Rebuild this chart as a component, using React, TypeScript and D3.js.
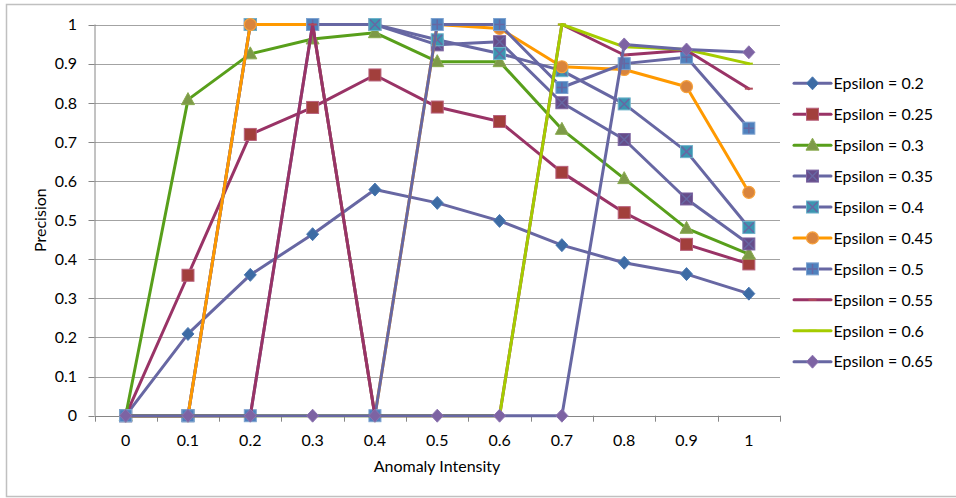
import React from "react";
import * as d3 from "d3";

const categories = ["0", "0.1", "0.2", "0.3", "0.4", "0.5", "0.6", "0.7", "0.8", "0.9", "1"];
const yTickValues = [0, 0.1, 0.2, 0.3, 0.4, 0.5, 0.6, 0.7, 0.8, 0.9, 1];

const seriesNames = [
  "Epsilon = 0.2",
  "Epsilon = 0.25",
  "Epsilon = 0.3",
  "Epsilon = 0.35",
  "Epsilon = 0.4",
  "Epsilon = 0.45",
  "Epsilon = 0.5",
  "Epsilon = 0.55",
  "Epsilon = 0.6",
  "Epsilon = 0.65",
];

const eps020 = [0, 0.209, 0.36, 0.464, 0.578, 0.544, 0.498, 0.436, 0.391, 0.362, 0.312];
const eps025 = [0, 0.359, 0.719, 0.788, 0.871, 0.789, 0.752, 0.622, 0.519, 0.438, 0.388];
const eps030 = [0, 0.808, 0.925, 0.963, 0.979, 0.905, 0.905, 0.732, 0.606, 0.479, 0.413];
const eps035 = [0, 0, 1, 1, 1, 0.948, 0.956, 0.8, 0.706, 0.554, 0.439];
const eps040 = [0, 0, 1, 1, 1, 0.961, 0.926, 0.882, 0.797, 0.675, 0.481];
const eps045 = [0, 0, 1, 1, 0, 1, 0.99, 0.892, 0.885, 0.841, 0.571];
const eps050 = [0, 0, 0, 1, 0, 1, 1, 0.839, 0.9, 0.916, 0.735];
const eps055 = [0, 0, 0, 1, 0, 0, 0, 1, 0.922, 0.934, 0.836];
const eps060 = [0, 0, 0, 0, 0, 0, 0, 1, 0.943, 0.936, 0.9];
const eps065 = [0, 0, 0, 0, 0, 0, 0, 0, 0.949, 0.936, 0.929];

const seriesValues = [eps020, eps025, eps030, eps035, eps040, eps045, eps050, eps055, eps060, eps065];

type Style = { line: string; marker: string; fill: string; stroke: string; mark?: string };
const PG = "#6767a3";
const styles: Style[] = [
  { line: PG, marker: "diamond", fill: "#3d6ba4", stroke: "#4a78b2" },
  { line: "#993366", marker: "square", fill: "#a23f3c", stroke: "#b8607c" },
  { line: "#589f1b", marker: "triangle", fill: "#7d9a48", stroke: "#8aab4f" },
  { line: PG, marker: "squareX", fill: "#664d8a", stroke: "#7e66a2", mark: PG },
  { line: PG, marker: "squareX", fill: "#3b96b1", stroke: "#6fb3cb", mark: PG },
  { line: "#ff9900", marker: "circle", fill: "#d9843c", stroke: "#f7a13a" },
  { line: PG, marker: "squarePlus", fill: "#4f81bd", stroke: "#7ea3d0", mark: PG },
  { line: "#993366", marker: "dash", fill: "#b04a5a", stroke: "#b04a5a" },
  { line: "#a5cc00", marker: "dash", fill: "#a5cc00", stroke: "#a5cc00" },
  { line: PG, marker: "diamond", fill: "#7d63a3", stroke: "#8b73b0" },
];

const FONT = "Lato, 'Liberation Sans', sans-serif";

function Marker({ x, y, s }: { x: number; y: number; s: Style }) {
  const h = 6;
  switch (s.marker) {
    case "diamond":
      return (
        <path
          d={`M${x},${y - 6.5}L${x + 6},${y}L${x},${y + 6.5}L${x - 6},${y}Z`}
          fill={s.fill}
          stroke={s.stroke}
          strokeWidth={1}
        />
      );
    case "square":
      return <rect x={x - h} y={y - h} width={2 * h} height={2 * h} fill={s.fill} stroke={s.stroke} strokeWidth={1} />;
    case "squareX":
      return (
        <g>
          <rect x={x - h} y={y - h} width={2 * h} height={2 * h} fill={s.fill} stroke={s.stroke} strokeWidth={1} />
          <path d={`M${x - h + 1},${y - h + 1}L${x + h - 1},${y + h - 1}M${x + h - 1},${y - h + 1}L${x - h + 1},${y + h - 1}`} stroke={s.mark} strokeWidth={1.5} />
        </g>
      );
    case "squarePlus":
      return (
        <g>
          <rect x={x - h} y={y - h} width={2 * h} height={2 * h} fill={s.fill} stroke={s.stroke} strokeWidth={1} />
          <path d={`M${x},${y - h + 1}L${x},${y + h - 1}M${x - h + 1},${y}L${x + h - 1},${y}`} stroke={s.mark} strokeWidth={1.5} />
        </g>
      );
    case "triangle":
      return (
        <path
          d={`M${x},${y - 7}L${x + 6.5},${y + 5}L${x - 6.5},${y + 5}Z`}
          fill={s.fill}
          stroke={s.stroke}
          strokeWidth={1}
        />
      );
    case "circle":
      return <circle cx={x} cy={y} r={6} fill={s.fill} stroke={s.stroke} strokeWidth={1.2} />;
    case "dash":
      return <rect x={x - 4} y={y - 1} width={8} height={2} fill={s.fill} />;
    default:
      return null;
  }
}

export default function App() {
  const W = 956;
  const H = 498;
  const left = 94.5;
  const right = 780;
  const top = 24.5;
  const bottom = 415.7;

  const x = d3.scalePoint<string>().domain(categories).range([left, right]).padding(0.5);
  const y = d3.scaleLinear().domain([0, 1]).range([bottom, top]);
  const step = x.step();

  const line = d3
    .line<number>()
    .x((_, i) => x(categories[i]) as number)
    .y((d) => y(d));

  const legendX0 = 794;
  const legendX1 = 831;
  const legendY0 = 83.3;
  const legendStep = 30.93;

  return (
    <svg
      width={W}
      height={H}
      style={{ position: "absolute", left: 0, top: 0, background: "#fff" }}
      fontFamily={FONT}
    >
      <rect x={0} y={0} width={W} height={H} fill="#fff" />
      <rect x={6.5} y={4.5} width={W} height={H - 6} fill="none" stroke="#c0c0c0" strokeWidth={1.5} />

      {/* gridlines */}
      {yTickValues.slice(1).map((v) => (
        <line key={"g" + v} x1={left} x2={right} y1={Math.round(y(v)) + 0.5} y2={Math.round(y(v)) + 0.5} stroke="#a3a3a3" strokeWidth={1} />
      ))}

      {/* y axis */}
      <line x1={left + 0.5} x2={left + 0.5} y1={top} y2={bottom} stroke="#868686" strokeWidth={1} />
      {yTickValues.map((v) => (
        <g key={"yt" + v}>
          <line x1={left - 6} x2={left} y1={Math.round(y(v)) + 0.5} y2={Math.round(y(v)) + 0.5} stroke="#868686" />
          <text x={77} y={y(v)} dy="0.36em" textAnchor="end" fontSize={16} fill="#000">
            {d3.format("~g")(v)}
          </text>
        </g>
      ))}

      {/* x axis */}
      <line x1={left} x2={right} y1={Math.round(bottom) + 0.5} y2={Math.round(bottom) + 0.5} stroke="#868686" strokeWidth={1} />
      {d3.range(categories.length + 1).map((i) => (
        <line
          key={"xt" + i}
          x1={Math.round(left + i * step) + 0.5}
          x2={Math.round(left + i * step) + 0.5}
          y1={bottom}
          y2={bottom + 6}
          stroke="#868686"
        />
      ))}
      {categories.map((c) => (
        <text key={"xl" + c} x={x(c)} y={440} dy="0.36em" textAnchor="middle" fontSize={16} fill="#000">
          {c}
        </text>
      ))}

      {/* axis titles */}
      <text x={437} y={466} dy="0.36em" textAnchor="middle" fontSize={16} fill="#000">
        Anomaly Intensity
      </text>
      <text
        transform={`translate(40,${(top + bottom) / 2}) rotate(-90)`}
        textAnchor="middle"
        dy="0.36em"
        fontSize={16}
        fill="#000"
      >
        Precision
      </text>

      {/* series */}
      {seriesValues.map((vals, si) => {
        const s = styles[si];
        return (
          <g key={"s" + si}>
            <path d={line(vals) || ""} fill="none" stroke={s.line} strokeWidth={3} strokeLinejoin="round" strokeLinecap="round" />
            {vals.map((v, i) => (
              <Marker key={i} x={x(categories[i]) as number} y={y(v)} s={s} />
            ))}
          </g>
        );
      })}

      {/* legend */}
      {seriesNames.map((name, i) => {
        const s = styles[i];
        const ly = legendY0 + i * legendStep;
        return (
          <g key={"l" + i}>
            <line x1={legendX0} x2={legendX1} y1={ly} y2={ly} stroke={s.line} strokeWidth={3} strokeLinecap="round" />
            <Marker x={(legendX0 + legendX1) / 2} y={ly} s={s} />
            <text x={833.5} y={ly} dy="0.36em" fontSize={16} fill="#000">
              {name}
            </text>
          </g>
        );
      })}
    </svg>
  );
}
